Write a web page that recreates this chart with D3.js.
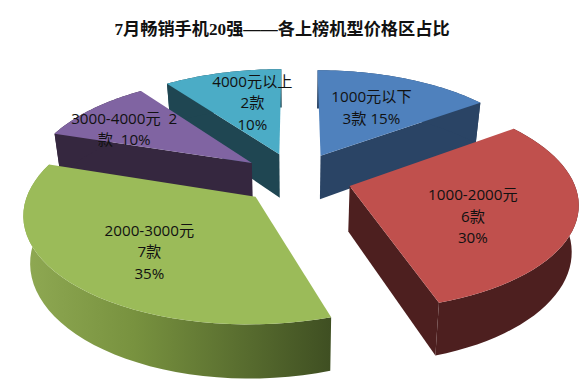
<!DOCTYPE html>
<html>

<head>
  <meta charset="utf8">
  <script src="https://d3js.org/d3.v7.min.js"></script>
  <style>
    body {
      margin: 0;
      background: #fff;
    }

    .title {
      font-family: "Liberation Serif", "Noto Sans CJK SC", serif;
      font-size: 17.2px;
      font-weight: bold;
      fill: #111;
    }

    .label {
      font-family: "Open Sans", "Noto Sans CJK SC", sans-serif;
      font-size: 15.2px;
      fill: #111;
    }
  </style>
</head>

<body>
  <svg id="chart" width="584" height="383"></svg>

  <script>
    var title = '7月畅销手机20强——各上榜机型价格区占比';
    var categories = ['1000元以下', '1000-2000元', '2000-3000元', '3000-4000元', '4000元以上'];
    var counts = [3, 6, 7, 2, 2];
    var labelLines = [
      ['1000元以下', '3款 15%'],
      ['1000-2000元', '6款', '30%'],
      ['2000-3000元', '7款', '35%'],
      ['3000-4000元  2', '款  10%'],
      ['4000元以上', '2款', '10%']
    ];
    var topColors = ['#4f81bd', '#c0504d', '#9bbb59', '#8064a2', '#4bacc6'];
    var sideColors = ['#2a4465', '#4d1f1f', 'url(#greenWall)', '#35273f', '#1f4652'];
    // how far along the slice's middle each label sits, then a nudge in px
    var labelRadius = [0.55, 0.62, 0.6, 0.72, 0.62];
    var labelNudge = [[2, -3], [-15, 10], [0, 6], [-10, 6], [10, 2]];

    var chart = d3.select('#chart');
    var cx = 296, cy = 178;
    var explode = 0.25;
    var perspective = 0.143;
    var depth = 45;
    var bottomScale = 0.975;

    var x = d3.scaleLinear().domain([-1, 1]).range([cx - 223, cx + 223]);
    var y = d3.scaleLinear().domain([-1, 1]).range([cy - 103.5, cy + 103.5]);

    // ground plane point to screen, v grows towards the viewer
    function project(u, v, low) {
      var w = 1 - perspective * v;
      var px = x(u / w);
      var py = y(v / w);
      if (low) {
        px = cx + (px - cx) * bottomScale;
        py += depth / w;
      }
      return [px, py];
    }

    var pie = d3.pie().sort(null).value((d) => d);
    var slices = pie(counts).map((d, i) => {
      var mid = (d.startAngle + d.endAngle) / 2;
      return {
        index: i,
        start: d.startAngle,
        end: d.endAngle,
        mid: mid,
        ou: explode * Math.sin(mid),
        ov: -explode * Math.cos(mid)
      };
    });

    function rim(s, low) {
      var steps = d3.range(0, 41).map((k) => s.start + (s.end - s.start) * k / 40);
      return steps.map((a) => project(s.ou + Math.sin(a), s.ov - Math.cos(a), low));
    }

    var line = d3.line();
    function poly(pts) {
      return line(pts) + 'Z';
    }

    var defs = chart.append('defs');
    var wall = defs.append('linearGradient')
      .attr('id', 'greenWall')
      .attr('gradientUnits', 'userSpaceOnUse')
      .attr('x1', 28).attr('y1', 0)
      .attr('x2', 331).attr('y2', 0);
    wall.append('stop').attr('offset', '0').attr('stop-color', '#8ea852');
    wall.append('stop').attr('offset', '0.35').attr('stop-color', '#78923f');
    wall.append('stop').attr('offset', '1').attr('stop-color', '#3f4f22');

    chart.append('text')
      .attr('class', 'title')
      .attr('x', 282)
      .attr('y', 35)
      .attr('text-anchor', 'middle')
      .text(title);

    // back slices first so the front ones cover them
    var order = slices.slice().sort((a, b) => a.ov - b.ov);
    var group = chart.append('g');

    order.forEach((s) => {
      var g = group.append('g').attr('class', 'slice').attr('data-name', categories[s.index]);
      var side = sideColors[s.index];
      var apexTop = project(s.ou, s.ov, false);
      var apexLow = project(s.ou, s.ov, true);
      var top = rim(s, false);
      var low = rim(s, true);

      // cut faces, only the ones turned towards the viewer
      if (-Math.sin(s.start) > 1e-6) {
        g.append('path')
          .attr('d', poly([apexTop, top[0], low[0], apexLow]))
          .attr('fill', side);
      }
      if (Math.sin(s.end) > 1e-6) {
        g.append('path')
          .attr('d', poly([apexTop, top[top.length - 1], low[low.length - 1], apexLow]))
          .attr('fill', side);
      }

      g.append('path')
        .attr('d', poly(top.concat(low.slice().reverse())))
        .attr('fill', side);

      g.append('path')
        .attr('d', poly([apexTop].concat(top)))
        .attr('fill', topColors[s.index]);
    });

    // labels go on top of every slice
    slices.forEach((s) => {
      var r = labelRadius[s.index];
      var p = project(s.ou + r * Math.sin(s.mid), s.ov - r * Math.cos(s.mid), false);
      var lines = labelLines[s.index];
      var nudge = labelNudge[s.index];
      var text = chart.append('text')
        .attr('class', 'label')
        .attr('text-anchor', 'middle')
        .attr('xml:space', 'preserve');
      lines.forEach((l, i) => {
        text.append('tspan')
          .attr('x', p[0] + nudge[0])
          .attr('y', p[1] + nudge[1] + (i - (lines.length - 1) / 2) * 21.5 + 5)
          .text(l);
      });
    });
  </script>
</body>

</html>
